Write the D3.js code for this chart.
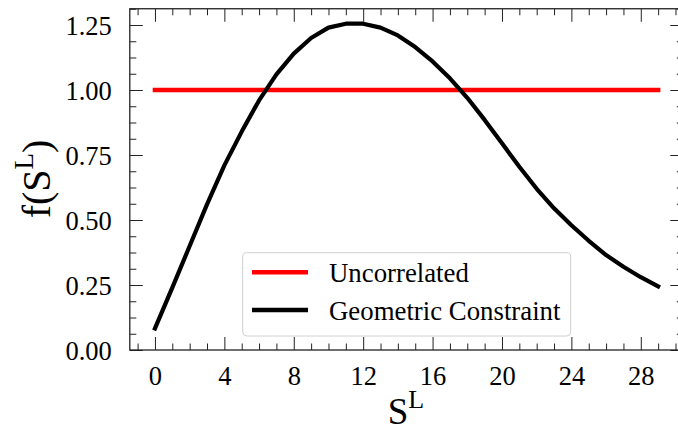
<!DOCTYPE html>
<html><head><meta charset="utf-8">
<script src="https://cdn.jsdelivr.net/npm/d3@7"></script>
<style>
html,body{margin:0;padding:0;background:#fff;}
svg text{font-family:"Liberation Serif","Times New Roman",serif;fill:#000;}
</style></head>
<body><div id="chart"></div>
<script>
// ---- data ----
const sValues = d3.range(0, 30);
const geometric = [0.083, 0.24, 0.40, 0.56, 0.71, 0.84, 0.96, 1.06, 1.14, 1.20,
                   1.24, 1.255, 1.255, 1.24, 1.21, 1.165, 1.11, 1.045, 0.97, 0.885,
                   0.795, 0.705, 0.62, 0.545, 0.48, 0.42, 0.365, 0.32, 0.28, 0.245];
const uncorrelated = sValues.map(() => 1.0);
const seriesNames = ["Uncorrelated", "Geometric Constraint"];
const seriesColors = ["#ff0000", "#000000"];
const xTicks = [0, 4, 8, 12, 16, 20, 24, 28];
const yTicks = [0, 0.25, 0.5, 0.75, 1.0, 1.25];

const W = 678, H = 432;
const mLeft = 129.8, mRight = 683.3, mTop = 8.75, mBottom = 350;

const svg = d3.select("#chart").append("svg").attr("width", W).attr("height", H);

const x = d3.scaleLinear().domain([-1.45, 30.45]).range([mLeft, mRight]);
const y = d3.scaleLinear().domain([0, 1.3125]).range([mBottom, mTop]);

const majLen = 13, minLen = 6.5;
const xMinor = d3.range(-1, 31).filter(v => !xTicks.includes(v));
const yMinor = d3.range(0, 22).map(i => i * 0.0625).filter(v => !yTicks.some(t => Math.abs(t - v) < 1e-9));

function styleAxis(g) {
  g.select(".domain").remove();
  g.selectAll(".tick line").attr("stroke", "#222").attr("stroke-width", 1);
}
// bottom
svg.append("g").attr("transform", `translate(0,${mBottom})`)
  .call(d3.axisBottom(x).tickValues(xTicks).tickSize(-majLen).tickPadding(0).tickFormat(d3.format("d")))
  .call(styleAxis)
  .call(g => g.selectAll(".tick text").attr("y", 35).attr("dy", null).style("font-size", "26.5px").attr("fill", "#000"));
svg.append("g").attr("transform", `translate(0,${mBottom})`)
  .call(d3.axisBottom(x).tickValues(xMinor).tickSize(-minLen).tickFormat(""))
  .call(styleAxis);
// top
svg.append("g").attr("transform", `translate(0,${mTop})`)
  .call(d3.axisTop(x).tickValues(xTicks).tickSize(-majLen).tickFormat(""))
  .call(styleAxis);
svg.append("g").attr("transform", `translate(0,${mTop})`)
  .call(d3.axisTop(x).tickValues(xMinor).tickSize(-minLen).tickFormat(""))
  .call(styleAxis);
// left
svg.append("g").attr("transform", `translate(${mLeft},0)`)
  .call(d3.axisLeft(y).tickValues(yTicks).tickSize(-majLen).tickPadding(0).tickFormat(d3.format(".2f")))
  .call(styleAxis)
  .call(g => g.selectAll(".tick text").attr("x", -18).attr("dy", "0.36em").style("font-size", "26.5px").attr("fill", "#000"));
svg.append("g").attr("transform", `translate(${mLeft},0)`)
  .call(d3.axisLeft(y).tickValues(yMinor).tickSize(-minLen).tickFormat(""))
  .call(styleAxis);
// right
svg.append("g").attr("transform", `translate(${mRight},0)`)
  .call(d3.axisRight(y).tickValues(yTicks).tickSize(-majLen).tickFormat(""))
  .call(styleAxis);
svg.append("g").attr("transform", `translate(${mRight},0)`)
  .call(d3.axisRight(y).tickValues(yMinor).tickSize(-minLen).tickFormat(""))
  .call(styleAxis);

// frame
svg.append("rect").attr("x", mLeft).attr("y", mTop).attr("width", mRight - mLeft).attr("height", mBottom - mTop)
  .attr("fill", "none").attr("stroke", "#222").attr("stroke-width", 1.3);

// lines
const line = d3.line().x((d, i) => x(sValues[i])).y(d => y(d));
svg.append("path").datum(uncorrelated).attr("d", line)
  .attr("fill", "none").attr("stroke", seriesColors[0]).attr("stroke-width", 4.5)
  .attr("stroke-linecap", "square").attr("stroke-linejoin", "round");
svg.append("path").datum(geometric).attr("d", line)
  .attr("fill", "none").attr("stroke", seriesColors[1]).attr("stroke-width", 4.2)
  .attr("stroke-linecap", "square").attr("stroke-linejoin", "round");

// legend
const lg = svg.append("g");
lg.append("rect").attr("x", 242.7).attr("y", 252.7).attr("width", 328).attr("height", 83.3)
  .attr("rx", 4).attr("fill", "#fff").attr("fill-opacity", 0.8).attr("stroke", "#d0d0d0").attr("stroke-width", 1);
seriesNames.forEach((name, i) => {
  const yy = 272.3 + i * 37.7;
  lg.append("line").attr("x1", 252).attr("x2", 308).attr("y1", yy).attr("y2", yy)
    .attr("stroke", seriesColors[i]).attr("stroke-width", 4.5).attr("stroke-linecap", "butt");
  lg.append("text").attr("x", 329).attr("y", yy + 9.6).style("font-size", "26.8px").text(name);
});

// axis labels
const xl = svg.append("text").attr("x", 406).attr("y", 423.5).attr("text-anchor", "middle").style("font-size", "37px");
xl.append("tspan").text("S");
xl.append("tspan").attr("dy", -16).style("font-size", "26px").text("L");

const yl = svg.append("text").attr("transform", "translate(50,179) rotate(-90)").attr("text-anchor", "middle").style("font-size", "40px");
yl.append("tspan").text("f(S");
yl.append("tspan").attr("dy", -17).style("font-size", "27px").text("L");
yl.append("tspan").attr("dy", 17).text(")");
</script>
</body></html>
